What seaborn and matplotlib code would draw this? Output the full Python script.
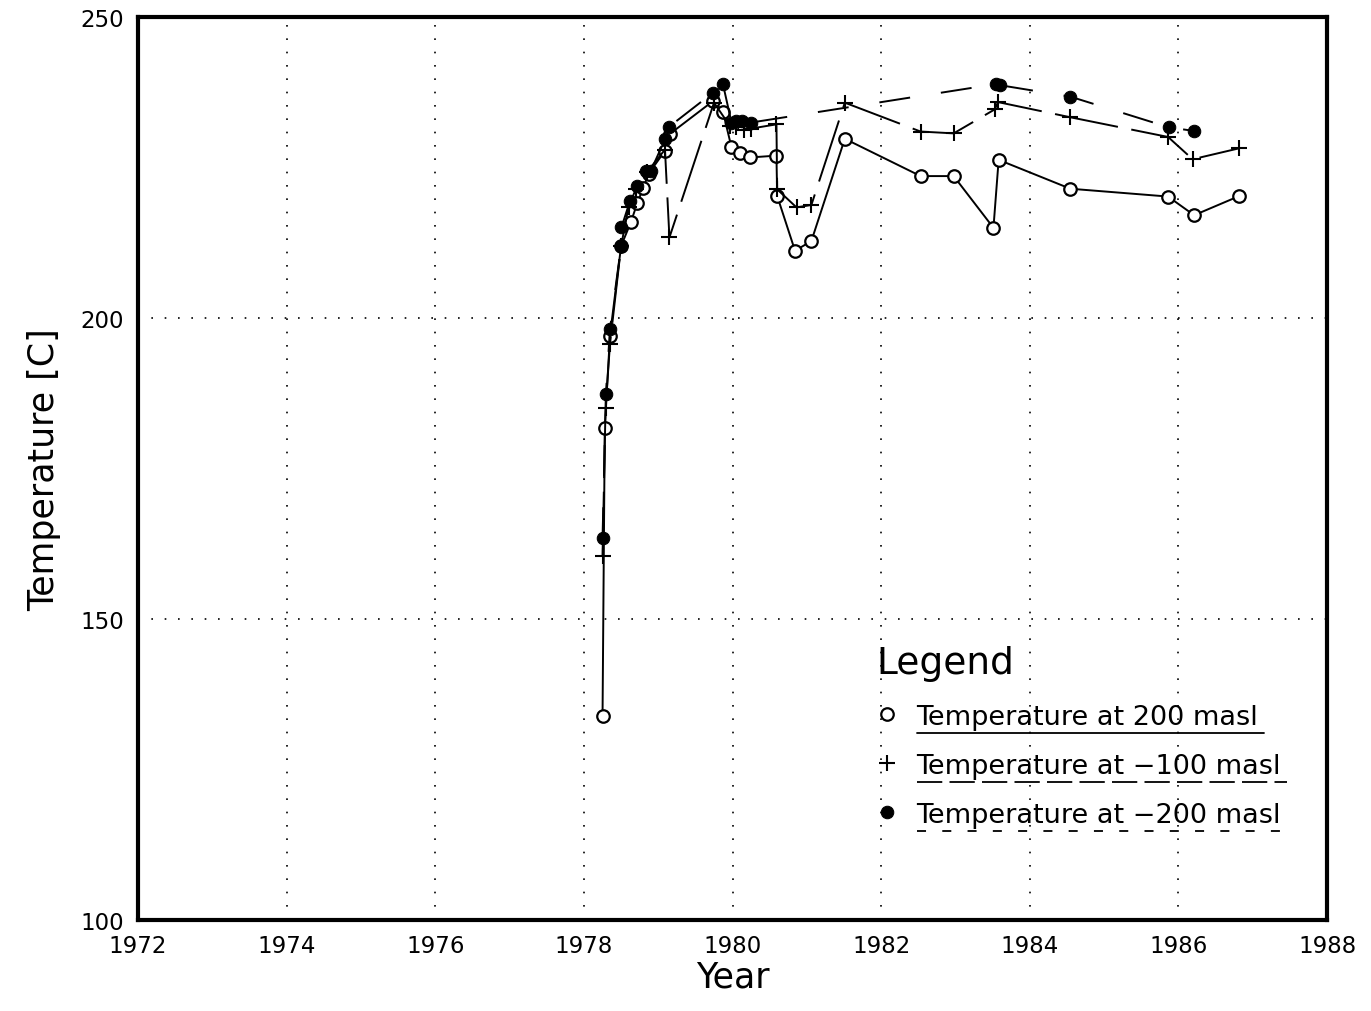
import numpy as np
import pandas as pd
import matplotlib
matplotlib.use("Agg")
import matplotlib.pyplot as plt
import seaborn as sns

# ---- data ----
year_200 = [1978.25, 1978.28, 1978.35, 1978.50, 1978.63, 1978.72, 1978.80, 1978.87,
            1979.09, 1979.155, 1979.74, 1979.87, 1979.985, 1980.10, 1980.24, 1980.59,
            1980.60, 1980.84, 1981.06, 1981.51, 1982.53, 1982.975, 1983.51, 1983.58,
            1984.545, 1985.86, 1986.21, 1986.82]
temp_200 = [133.9, 181.7, 197.1, 212.0, 215.9, 219.2, 221.7, 224.0,
            227.8, 230.6, 236.1, 234.3, 228.4, 227.5, 226.7, 227.0,
            220.3, 211.2, 212.8, 229.8, 223.6, 223.6, 215.0, 226.3,
            221.5, 220.2, 217.1, 220.3]

year_m100 = [1978.25, 1978.29, 1978.35, 1978.50, 1978.60, 1978.70, 1978.85, 1979.09,
             1979.15, 1979.75, 1979.96, 1980.05, 1980.15, 1980.25, 1980.59, 1980.60,
             1980.86, 1981.06, 1981.51, 1982.53, 1982.975, 1983.53, 1983.57, 1984.535,
             1985.86, 1986.19, 1986.81]
temp_m100 = [160.5, 185.0, 195.7, 212.0, 218.5, 221.5, 224.3, 228.0,
             213.4, 235.8, 232.0, 231.7, 231.3, 231.5, 232.2, 221.4,
             218.4, 218.8, 235.8, 231.0, 230.7, 234.7, 235.9, 233.4,
             230.1, 226.4, 228.2]

year_m200 = [1978.25, 1978.295, 1978.35, 1978.50, 1978.505, 1978.62, 1978.71, 1978.84,
             1978.90, 1979.09, 1979.146, 1979.73, 1979.87, 1979.985, 1980.05, 1980.12,
             1980.25, 1983.55, 1983.60, 1984.545, 1985.87, 1986.21]
temp_m200 = [163.4, 187.4, 198.2, 212.0, 215.1, 219.5, 222.0, 224.5,
             224.5, 229.7, 231.8, 237.4, 238.9, 232.5, 232.8, 232.8,
             232.5, 238.9, 238.7, 236.8, 231.7, 231.1]

labels = ["Temperature at 200 masl", "Temperature at \u2212100 masl",
          "Temperature at \u2212200 masl"]
x_ticks = [1972, 1974, 1976, 1978, 1980, 1982, 1984, 1986, 1988]
y_ticks = [100, 150, 200, 250]

df = pd.concat([
    pd.DataFrame({"Year": year_200, "Temp": temp_200, "series": labels[0]}),
    pd.DataFrame({"Year": year_m100, "Temp": temp_m100, "series": labels[1]}),
    pd.DataFrame({"Year": year_m200, "Temp": temp_m200, "series": labels[2]}),
], ignore_index=True)

sns.set_theme(style="white")
plt.rcParams["font.family"] = ["DejaVu Sans"]
plt.rcParams["text.color"] = "black"
plt.rcParams["axes.labelcolor"] = "black"

fig = plt.figure(figsize=(13.71, 10.12), dpi=100)
ax = fig.add_axes([0.1007, 0.090, 0.8673, 0.892])

lw = 1.4
styles = {
    labels[0]: dict(marker="o", markerfacecolor="white", markeredgecolor="black",
                    markeredgewidth=1.6, markersize=9, linestyle="-"),
    labels[1]: dict(marker="+", markeredgecolor="black", markeredgewidth=1.5,
                    markersize=11, dashes=(33, 7)),
    labels[2]: dict(marker="o", markerfacecolor="black", markeredgecolor="black",
                    markersize=9, dashes=(16, 16)),
}
for lab in labels:
    sub = df[df["series"] == lab]
    sns.lineplot(data=sub, x="Year", y="Temp", ax=ax, color="black",
                 estimator=None, sort=False, linewidth=lw, label=lab,
                 **styles[lab])

ax.set_xlim(1972, 1988)
ax.set_ylim(100, 250)
ax.set_xticks(x_ticks)
ax.set_yticks(y_ticks)
ax.tick_params(axis="both", labelsize=16.5, direction="in", length=5,
               width=1.5, colors="black", pad=10)
ax.set_xlabel("Year", fontsize=25, labelpad=2)
ax.set_ylabel("Temperature [C]", fontsize=25, labelpad=14)
ax.grid(True, color="black", linestyle=(0, (1, 7)), linewidth=1.2)
for s in ax.spines.values():
    s.set_linewidth(3)
    s.set_color("black")

leg = ax.legend(loc="upper left", bbox_to_anchor=(0.6, 0.332), frameon=False,
                title="Legend", fontsize=19.5, title_fontsize=27,
                handlelength=0.8, handletextpad=0.7, labelspacing=0.85,
                alignment="left")
for h in leg.legend_handles:
    h.set_linestyle("none")
for t in leg.get_texts():
    t.set_color("black")
leg.get_title().set_color("black")

# underline legend entries with each series' line style
fig.canvas.draw()
r = fig.canvas.get_renderer()
inv = ax.transAxes.inverted()
ul_styles = ["-", (0, (14, 4)), (0, (5, 9))]
for txt, ls in zip(leg.get_texts(), ul_styles):
    bb = txt.get_window_extent(r)
    (x0, y0), (x1, y1) = inv.transform([[bb.x0, bb.y0], [bb.x1, bb.y1]])
    ax.plot([x0, x1 + 0.005], [y0 - 0.004, y0 - 0.004], transform=ax.transAxes,
            color="black", linewidth=1.3, linestyle=ls, clip_on=False)

fig.savefig("out.png", dpi=100, facecolor="white")
